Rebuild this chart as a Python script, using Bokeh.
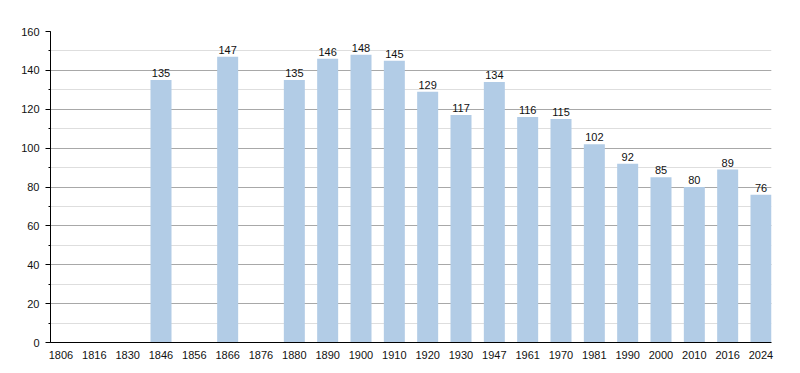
from bokeh.plotting import figure
from bokeh.models import ColumnDataSource, FixedTicker, SingleIntervalTicker, Range1d
from bokeh.core.properties import value
from bokeh.embed import file_html
from bokeh.resources import INLINE

years = ["1806", "1816", "1830", "1846", "1856", "1866", "1876", "1880", "1890", "1900",
         "1910", "1920", "1930", "1947", "1961", "1970", "1981", "1990", "2000", "2010",
         "2016", "2024"]
population = [None, None, None, 135, None, 147, None, 135, 146, 148,
              145, 129, 117, 134, 116, 115, 102, 92, 85, 80,
              89, 76]

xs = [i for i, v in enumerate(population) if v is not None]
vals = [v for v in population if v is not None]
src = ColumnDataSource(dict(x=xs, top=vals, label=[str(v) for v in vals]))

FONT = "Liberation Sans"
BW = 0.63

p = figure(width=784, height=361, output_backend="svg", toolbar_location=None,
           x_range=Range1d(-BW / 2, len(years) - 1 + BW / 2), y_range=Range1d(0, 160),
           min_border_left=50, min_border_right=13, min_border_top=31, min_border_bottom=18)
p.outline_line_color = None
p.background_fill_color = "white"

p.vbar(x="x", top="top", width=BW, source=src, fill_color="#b2cce6", line_color=None)
p.text(x="x", y="top", text="label", source=src, text_align="center", text_baseline="bottom",
       y_offset=-3, text_font=value(FONT), text_font_size="11px", text_color="#111111")

# axes
p.xaxis.ticker = FixedTicker(ticks=list(range(len(years))))
p.xaxis.major_label_overrides = {i: y for i, y in enumerate(years)}
p.xaxis.major_tick_line_color = None
p.xaxis.minor_tick_line_color = None
p.xaxis.axis_line_color = "black"
p.xaxis.major_label_standoff = 2
p.xaxis.major_label_text_font = FONT
p.xaxis.major_label_text_font_size = "11px"
p.xaxis.major_label_text_color = "#111111"

p.yaxis.ticker = SingleIntervalTicker(interval=20, num_minor_ticks=2)
p.yaxis.axis_line_color = "black"
p.yaxis.major_tick_line_color = "black"
p.yaxis.major_tick_out = 5
p.yaxis.major_tick_in = 0
p.yaxis.minor_tick_line_color = "black"
p.yaxis.minor_tick_out = 2
p.yaxis.minor_tick_in = 0
p.yaxis.major_label_standoff = 6
p.yaxis.major_label_text_font = FONT
p.yaxis.major_label_text_font_size = "11px"
p.yaxis.major_label_text_color = "#111111"

p.xgrid.grid_line_color = None
p.ygrid.grid_line_color = "#a8a8a8"
p.ygrid.minor_grid_line_color = "#dedede"

open("out.html", "w").write(file_html(p, INLINE))
